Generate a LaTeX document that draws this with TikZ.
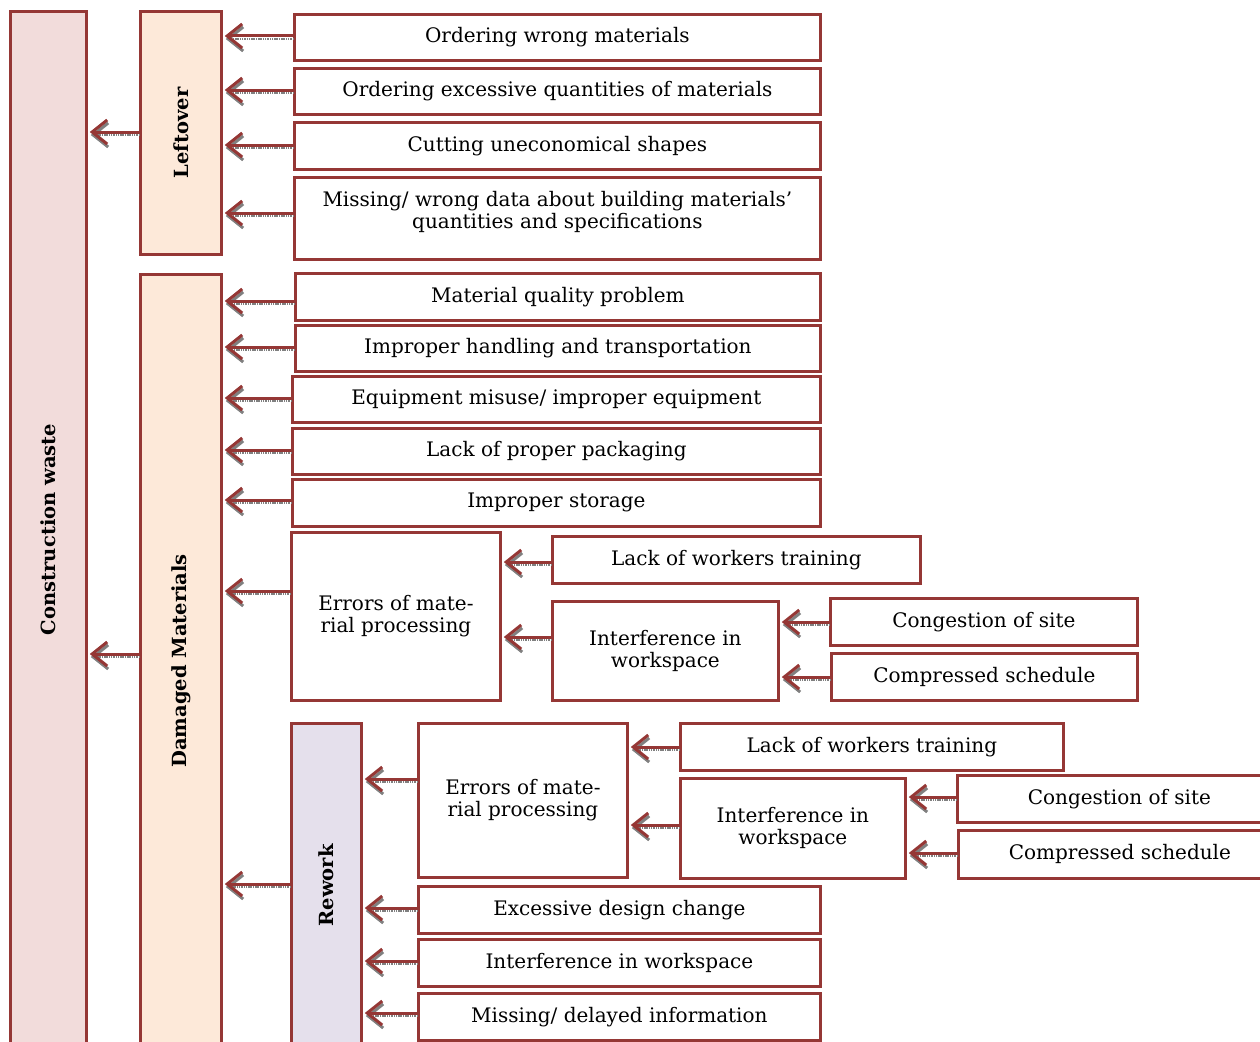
\documentclass[tikz,border=0pt]{standalone}
\usepackage{fontspec}
\setmainfont{DejaVu Serif}
\usetikzlibrary{arrows.meta}
\definecolor{bord}{HTML}{953735}
\definecolor{cwfill}{HTML}{F2DCDB}
\definecolor{orfill}{HTML}{FDE9D9}
\definecolor{rwfill}{HTML}{E5E0EC}
\newcommand{\bx}[7][white]{\node[box, fill=#1, minimum width={(#5-#3)*1pt}, minimum height={(#6-#4)*1pt}] (#2) at (#3,#4) {#7};}
\begin{document}
\begin{tikzpicture}[x=1pt,y=-1pt,
 box/.style={draw=bord, line width=2.8pt, inner sep=0pt, align=center, font=\fontsize{20}{22}\selectfont, anchor=north west},
 biglabel/.style={rotate=90, font=\fontsize{19.5}{22}\selectfont\bfseries},
 arr/.style={draw=bord, line width=3pt, shorten >=2pt,
   -{Straight Barb[length=15pt,width=24pt,line width=3pt]},
   preaction={draw=black!50, line width=2pt, dash pattern=on 1.5pt off 0.8pt,
     transform canvas={shift={(1pt,-3pt)}}}}]
\useasboundingbox (0,0) rectangle (1260,1041);
% category columns
\bx[cwfill]{cw}{9}{10}{85}{1046}{}
\bx[orfill]{lo}{139}{10}{220}{253}{}
\bx[orfill]{dm}{139}{273}{220}{1046}{}
\bx[rwfill]{rw}{290}{722}{360}{1046}{}
\node[biglabel] (cwl) at (cw.center) {Construction waste};
\node[biglabel] (lol) at (lo.center) {Leftover};
\node[biglabel] (dml) at (dm.center) {Damaged Materials};
\node[biglabel] (rwl) at (rw.center) {Rework};
% leftover causes
\bx{a1}{293}{13}{819}{59}{Ordering wrong materials}
\bx{a2}{293}{67}{819}{113}{Ordering excessive quantities of materials}
\bx{a3}{293}{121}{819}{168}{Cutting uneconomical shapes}
\bx{a4}{293}{176}{819}{258}{Missing/ wrong data about building materials'\\quantities and specifications\\[-4pt]}
% damaged materials causes
\bx{b1}{294}{272}{819}{319}{Material quality problem}
\bx{b2}{294}{324}{819}{370}{Improper handling and transportation}
\bx{b3}{291}{375}{819}{421}{Equipment misuse/ improper equipment}
\bx{b4}{291}{427}{819}{473}{Lack of proper packaging}
\bx{b5}{291}{478}{819}{525}{Improper storage}
\bx{b6}{290}{531}{499}{699}{Errors of mate-\\rial processing}
\bx{b7}{551}{535}{919}{582}{Lack of workers training}
\bx{b8}{551}{600}{777}{699}{Interference in\\workspace}
\bx{b9}{829}{597}{1136}{644}{Congestion of site}
\bx{b10}{830}{652}{1136}{699}{Compressed schedule}
% rework causes
\bx{c1}{417}{722}{626}{876}{Errors of mate-\\rial processing}
\bx{c2}{679}{722}{1062}{769}{Lack of workers training}
\bx{c3}{679}{777}{904}{877}{Interference in\\workspace}
\bx{c4}{956}{774}{1280}{821}{Congestion of site}
\bx{c5}{957}{829}{1280}{877}{Compressed schedule}
\bx{c6}{417}{885}{819}{932}{Excessive design change}
\bx{c7}{417}{938}{819}{985}{Interference in workspace}
\bx{c8}{417}{992}{819}{1039}{Missing/ delayed information}
% arrows
\draw[arr] (lo.west |- 0,132) -- (cw.east |- 0,132);
\draw[arr] (dm.west |- 0,654) -- (cw.east |- 0,654);
\draw[arr] (a1.west |- 0,36) -- (lo.east |- 0,36);
\draw[arr] (a2.west |- 0,90) -- (lo.east |- 0,90);
\draw[arr] (a3.west |- 0,145) -- (lo.east |- 0,145);
\draw[arr] (a4.west |- 0,213) -- (lo.east |- 0,213);
\draw[arr] (b1.west |- 0,301) -- (dm.east |- 0,301);
\draw[arr] (b2.west |- 0,347) -- (dm.east |- 0,347);
\draw[arr] (b3.west |- 0,398) -- (dm.east |- 0,398);
\draw[arr] (b4.west |- 0,450) -- (dm.east |- 0,450);
\draw[arr] (b5.west |- 0,500) -- (dm.east |- 0,500);
\draw[arr] (b6.west |- 0,591) -- (dm.east |- 0,591);
\draw[arr] (b7.west |- 0,562) -- (b6.east |- 0,562);
\draw[arr] (b8.west |- 0,637) -- (b6.east |- 0,637);
\draw[arr] (b9.west |- 0,622) -- (b8.east |- 0,622);
\draw[arr] (b10.west |- 0,677) -- (b8.east |- 0,677);
\draw[arr] (rw.west |- 0,884) -- (dm.east |- 0,884);
\draw[arr] (c1.west |- 0,779) -- (rw.east |- 0,779);
\draw[arr] (c2.west |- 0,747) -- (c1.east |- 0,747);
\draw[arr] (c3.west |- 0,825) -- (c1.east |- 0,825);
\draw[arr] (c4.west |- 0,797) -- (c3.east |- 0,797);
\draw[arr] (c5.west |- 0,853) -- (c3.east |- 0,853);
\draw[arr] (c6.west |- 0,908) -- (rw.east |- 0,908);
\draw[arr] (c7.west |- 0,961) -- (rw.east |- 0,961);
\draw[arr] (c8.west |- 0,1013) -- (rw.east |- 0,1013);
\end{tikzpicture}
\end{document}
